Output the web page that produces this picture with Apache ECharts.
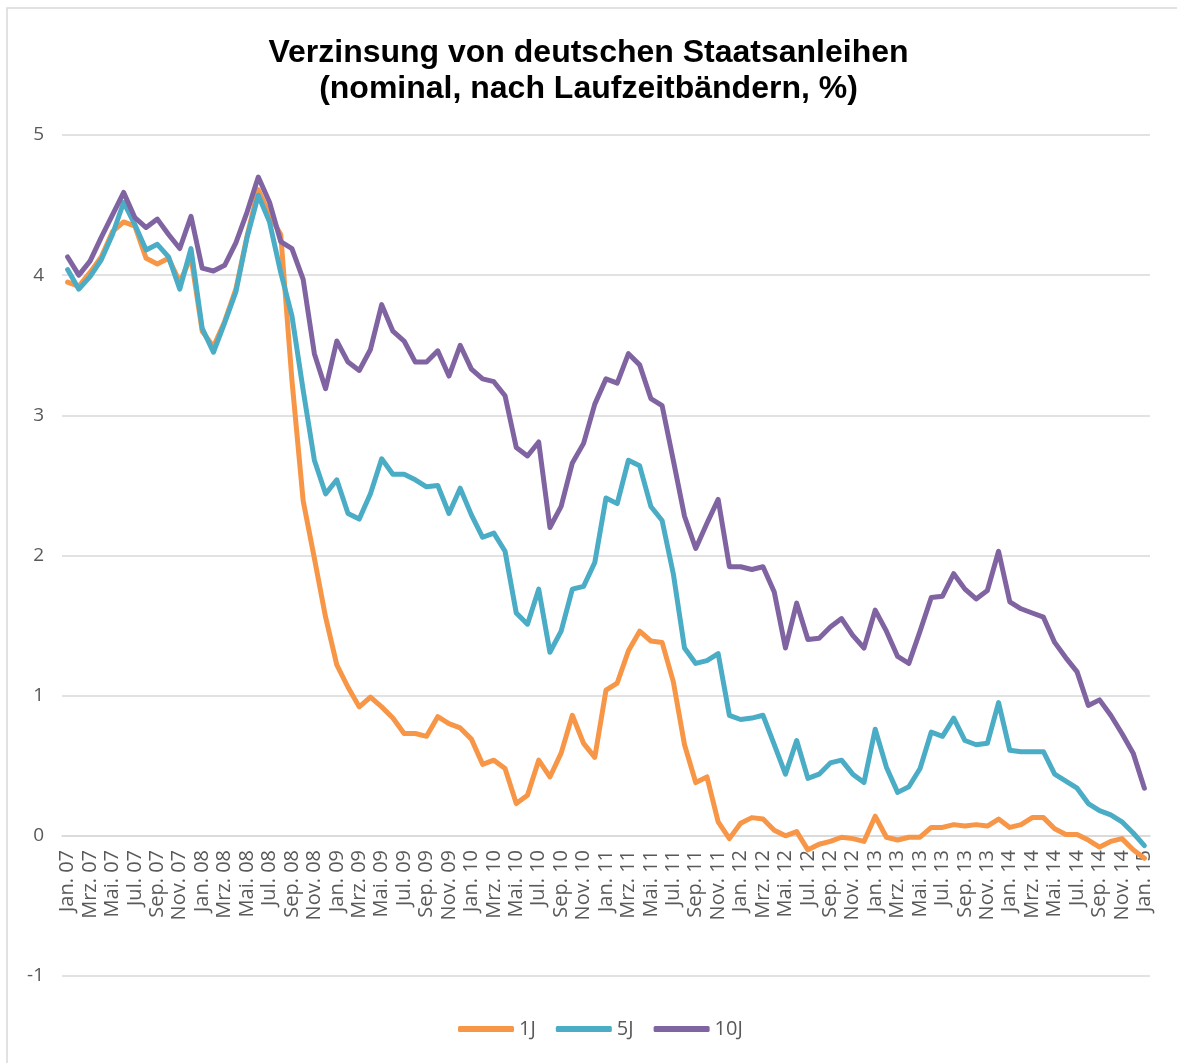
<!DOCTYPE html>
<html>
<head>
<meta charset="utf-8">
<title>Verzinsung von deutschen Staatsanleihen</title>
<script src="https://cdn.jsdelivr.net/npm/echarts@6/dist/echarts.min.js"></script>
<style>
  html, body { margin: 0; padding: 0; background: #fff; }
  #main { width: 1177px; height: 1063px; }
</style>
</head>
<body>
<div id="main"></div>
<script type="text/javascript">
// Monatsnamen und Jahre fuer die Kategorieachse
var monthNames = ['Jan.', 'Feb.', 'Mrz.', 'Apr.', 'Mai.', 'Jun.', 'Jul.', 'Aug.', 'Sep.', 'Okt.', 'Nov.', 'Dez.'];
var years = ['07', '08', '09', '10', '11', '12', '13', '14', '15'];

// Renditen in %, Jan. 07 bis Jan. 15
var yield1J = [
  3.95, 3.92, 4.02, 4.13, 4.31, 4.38, 4.35, 4.12, 4.08, 4.12, 3.95, 4.13,
  3.60, 3.49, 3.67, 3.90, 4.28, 4.61, 4.43, 4.29, 3.25, 2.39, 1.98, 1.56,
  1.22, 1.06, 0.92, 0.99, 0.92, 0.84, 0.73, 0.73, 0.71, 0.85, 0.80, 0.77,
  0.69, 0.51, 0.54, 0.48, 0.23, 0.29, 0.54, 0.42, 0.59, 0.86, 0.66, 0.56,
  1.04, 1.09, 1.32, 1.46, 1.39, 1.38, 1.10, 0.65, 0.38, 0.42, 0.10, -0.02,
  0.09, 0.13, 0.12, 0.04, 0.00, 0.03, -0.10, -0.06, -0.04, -0.01, -0.02, -0.04,
  0.14, -0.01, -0.03, -0.01, -0.01, 0.06, 0.06, 0.08, 0.07, 0.08, 0.07, 0.12,
  0.06, 0.08, 0.13, 0.13, 0.05, 0.01, 0.01, -0.03, -0.08, -0.04, -0.02, -0.10,
  -0.16
];
var yield5J = [
  4.04, 3.90, 3.99, 4.11, 4.29, 4.52, 4.36, 4.18, 4.22, 4.13, 3.90, 4.19,
  3.62, 3.45, 3.66, 3.88, 4.27, 4.57, 4.38, 4.02, 3.71, 3.18, 2.68, 2.44,
  2.54, 2.30, 2.26, 2.44, 2.69, 2.58, 2.58, 2.54, 2.49, 2.50, 2.30, 2.48,
  2.29, 2.13, 2.16, 2.03, 1.59, 1.51, 1.76, 1.31, 1.46, 1.76, 1.78, 1.95,
  2.41, 2.37, 2.68, 2.64, 2.35, 2.25, 1.87, 1.34, 1.23, 1.25, 1.30, 0.86,
  0.83, 0.84, 0.86, 0.65, 0.44, 0.68, 0.41, 0.44, 0.52, 0.54, 0.44, 0.38,
  0.76, 0.49, 0.31, 0.35, 0.48, 0.74, 0.71, 0.84, 0.68, 0.65, 0.66, 0.95,
  0.61, 0.60, 0.60, 0.60, 0.44, 0.39, 0.34, 0.23, 0.18, 0.15, 0.10, 0.02,
  -0.07
];
var yield10J = [
  4.13, 4.00, 4.10, 4.27, 4.43, 4.59, 4.41, 4.34, 4.40, 4.29, 4.19, 4.42,
  4.05, 4.03, 4.07, 4.23, 4.45, 4.70, 4.52, 4.24, 4.19, 3.97, 3.44, 3.19,
  3.53, 3.38, 3.32, 3.47, 3.79, 3.60, 3.53, 3.38, 3.38, 3.46, 3.28, 3.50,
  3.33, 3.26, 3.24, 3.14, 2.77, 2.71, 2.81, 2.20, 2.35, 2.66, 2.80, 3.08,
  3.26, 3.23, 3.44, 3.36, 3.12, 3.07, 2.68, 2.28, 2.05, 2.23, 2.40, 1.92,
  1.92, 1.90, 1.92, 1.74, 1.34, 1.66, 1.40, 1.41, 1.49, 1.55, 1.43, 1.34,
  1.61, 1.46, 1.28, 1.23, 1.46, 1.70, 1.71, 1.87, 1.76, 1.69, 1.75, 2.03,
  1.67, 1.62, 1.59, 1.56, 1.38, 1.27, 1.17, 0.93, 0.97, 0.86, 0.73, 0.59,
  0.34
];

var categories = [];
for (var y = 0; y < years.length; y++) {
  for (var m = 0; m < monthNames.length; m++) {
    if (categories.length < yield1J.length) {
      categories.push(monthNames[m] + ' ' + years[y]);
    }
  }
}

var myChart = echarts.init(document.getElementById('main'));

function lineSeries(name, data, color) {
  return {
    name: name,
    type: 'line',
    data: data,
    symbol: 'none',
    showSymbol: false,
    lineStyle: { color: color, width: 5, cap: 'round', join: 'round' },
    itemStyle: { color: color }
  };
}

var option = {
  backgroundColor: '#ffffff',
  animation: false,
  graphic: [{
    type: 'rect',
    shape: { x: 7, y: 8, width: 1200, height: 1100 },
    style: { fill: 'none', stroke: '#d9d9d9', lineWidth: 1.5 },
    silent: true
  }],
  title: {
    text: 'Verzinsung von deutschen Staatsanleihen\n(nominal, nach Laufzeitbändern, %)',
    left: 'center',
    top: 30,
    textStyle: {
      fontFamily: 'Liberation Sans',
      fontWeight: 'bold',
      fontSize: 32,
      lineHeight: 36,
      color: '#000000'
    }
  },
  legend: {
    data: ['1J', '5J', '10J'],
    left: 453,
    top: 1014,
    icon: 'roundRect',
    itemWidth: 56,
    itemHeight: 6,
    itemGap: 20,
    textStyle: { fontFamily: 'Open Sans', fontSize: 20, color: '#595959' }
  },
  // grid 0: Linien; grid 1: nur die Beschriftung an der Nulllinie
  grid: [
    { left: 62, right: 27, top: 135, bottom: 87 },
    { left: 62, right: 27, top: 135, bottom: 227 }
  ],
  xAxis: [{
    type: 'category',
    gridIndex: 0,
    data: categories,
    boundaryGap: true,
    axisLine: { show: false },
    axisTick: { show: false },
    axisLabel: { show: false },
    splitLine: { show: false }
  }, {
    type: 'category',
    gridIndex: 1,
    data: categories,
    boundaryGap: true,
    position: 'bottom',
    axisLine: { show: true, lineStyle: { color: '#d9d9d9', width: 1.5 } },
    axisTick: { show: false },
    axisLabel: {
      interval: 1,
      rotate: 90,
      margin: 14,
      fontFamily: 'Open Sans',
      fontSize: 20,
      color: '#595959'
    },
    splitLine: { show: false }
  }],
  yAxis: [{
    type: 'value',
    gridIndex: 0,
    min: -1,
    max: 5,
    interval: 1,
    axisLine: { show: false },
    axisTick: { show: false },
    axisLabel: { margin: 18, fontFamily: 'Open Sans', fontSize: 19, color: '#595959' },
    splitLine: { lineStyle: { color: '#d9d9d9', width: 1.5 } }
  }, {
    type: 'value',
    gridIndex: 1,
    min: 0,
    max: 5,
    show: false
  }],
  series: [
    lineSeries('1J', yield1J, '#f79646'),
    lineSeries('5J', yield5J, '#4bacc6'),
    lineSeries('10J', yield10J, '#8064a2')
  ]
};
myChart.setOption(option);
</script>
</body>
</html>
